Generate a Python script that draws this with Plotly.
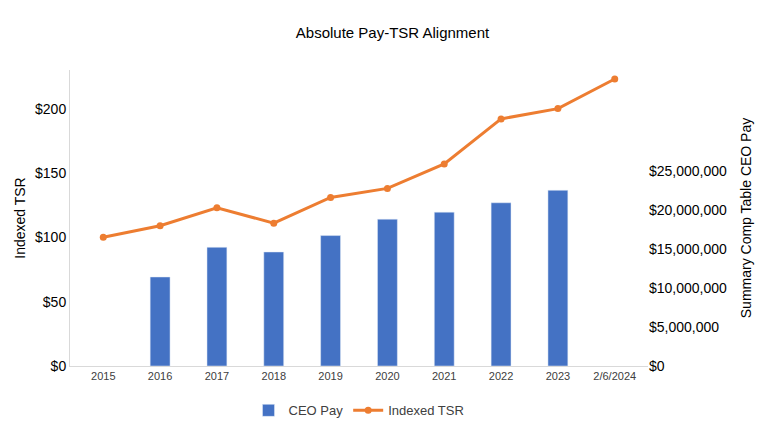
import plotly.graph_objects as go

years = ["2015", "2016", "2017", "2018", "2019", "2020", "2021", "2022", "2023", "2/6/2024"]
ceo_pay = [None, 11.4e6, 15.2e6, 14.6e6, 16.7e6, 18.8e6, 19.7e6, 20.9e6, 22.5e6, None]
indexed_tsr = [100, 109, 123, 111, 131, 138, 157, 192, 200, 223]
tsr_ticks = [0, 50, 100, 150, 200]
pay_ticks = [0, 5e6, 10e6, 15e6, 20e6, 25e6]

fig = go.Figure()
fig.add_trace(go.Bar(x=years, y=ceo_pay, name="CEO Pay", marker_color="#4472C4",
                     yaxis="y2", width=0.35))
fig.add_trace(go.Scatter(x=years, y=indexed_tsr, name="Indexed TSR", mode="lines+markers",
                         line=dict(color="#ED7D31", width=3), marker=dict(size=7),
                         cliponaxis=False))

fig.update_layout(
    width=769, height=429,
    font=dict(family="Liberation Sans, Arial", size=12, color="#404040"),
    title=dict(text="Absolute Pay-TSR Alignment", x=0.5, y=0.955, font=dict(size=15, color="#000")),
    plot_bgcolor="white", paper_bgcolor="white",
    margin=dict(l=62, r=129, t=62, b=55),
    showlegend=True,
    legend=dict(orientation="h", x=0.5, xanchor="center", y=-0.15, yanchor="middle",
                traceorder="normal", font=dict(size=13, color="#404040")),
    xaxis=dict(type="category", showline=True, linecolor="#d9d9d9", ticks="",
               tickfont=dict(size=11, color="#404040")),
    yaxis=dict(title=dict(text="Indexed TSR", font=dict(size=14, color="#000"), standoff=6),
               range=[0, 230],
               tickvals=tsr_ticks, ticktext=["$" + str(v) for v in tsr_ticks], showgrid=False,
               showline=True, linecolor="#d9d9d9", tickfont=dict(size=14, color="#000"), zeroline=False),
    yaxis2=dict(title=dict(text="Summary Comp Table CEO Pay", font=dict(size=14, color="#000")),
                overlaying="y", side="right", range=[0, 37.9e6],
                tickvals=pay_ticks, ticktext=["${:,.0f}".format(v) for v in pay_ticks],
                showgrid=False, tickfont=dict(size=14, color="#000"), zeroline=False),
)

fig.write_html("out.html")
